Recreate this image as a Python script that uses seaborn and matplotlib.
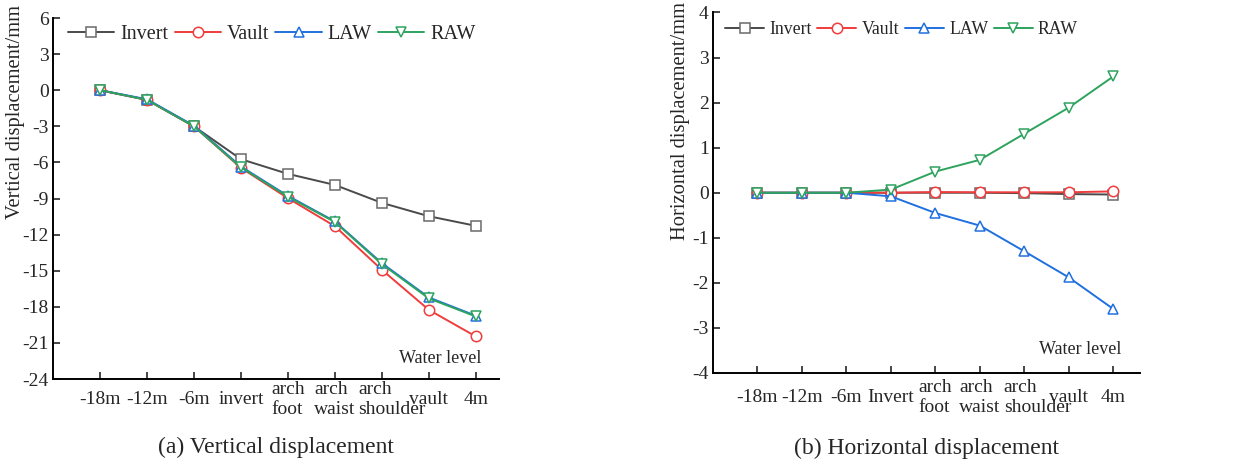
import numpy as np
import pandas as pd
import matplotlib
matplotlib.use("Agg")
import matplotlib.pyplot as plt
import matplotlib.transforms as mtransforms
import seaborn as sns

sns.set_theme(style="ticks")
plt.rcParams["font.family"] = ["Liberation Serif", "DejaVu Serif"]

# Water level stages
stages_a = ["-18m", "-12m", "-6m", "invert", "arch\nfoot", "arch\nwaist",
            "arch\nshoulder", "vault", "4m"]
stages_b = ["-18m", "-12m", "-6m", "Invert", "arch\nfoot", "arch\nwaist",
            "arch\nshoulder", "vault", "4m"]

series = ["Invert", "Vault", "LAW", "RAW"]

# Vertical displacement (mm)
vert_invert = [0.0, -0.8, -3.0, -5.73, -6.95, -7.87, -9.36, -10.47, -11.27]
vert_vault = [0.0, -0.8, -3.0, -6.45, -8.97, -11.3, -14.92, -18.25, -20.46]
vert_law = [0.0, -0.75, -2.95, -6.34, -8.78, -10.9, -14.37, -17.22, -18.74]
vert_raw = [0.0, -0.8, -3.0, -6.4, -8.85, -10.95, -14.45, -17.3, -18.8]

# Horizontal displacement (mm)
hor_invert = [0.0, 0.0, 0.0, 0.0, 0.0, 0.0, -0.01, -0.03, -0.04]
hor_vault = [0.0, 0.0, 0.0, 0.0, 0.015, 0.01, 0.01, 0.01, 0.03]
hor_law = [0.0, 0.0, 0.0, -0.08, -0.45, -0.73, -1.3, -1.88, -2.58]
hor_raw = [0.0, 0.0, 0.0, 0.07, 0.47, 0.73, 1.31, 1.89, 2.58]

colors = {"Invert": "#4a4a4a", "Vault": "#f03c3c", "LAW": "#2070e0", "RAW": "#2ea35e"}
edge_colors = {"Invert": "#6a6a6a", "Vault": "#f03c3c", "LAW": "#2070e0", "RAW": "#2ea35e"}
markers = {"Invert": "s", "Vault": "o", "LAW": "^", "RAW": "v"}


def long_frame(values):
    rows = []
    for name, vals in zip(series, values):
        for i, v in enumerate(vals):
            rows.append({"stage": i, "disp": v, "series": name})
    return pd.DataFrame(rows)


df_a = long_frame([vert_invert, vert_vault, vert_law, vert_raw])
df_b = long_frame([hor_invert, hor_vault, hor_law, hor_raw])

fig = plt.figure(figsize=(12.5, 4.67), dpi=100)
ax_a = fig.add_axes([0.0424, 0.1884, 0.357, 0.773])
ax_b = fig.add_axes([0.5704, 0.2013, 0.3416, 0.772])


def draw(ax, df, labels, xmax, ylim, yticks, xpad, shoulder_shift, ylabel, ylabel_xy,
         title, title_y, legend_xy, legend_size, handle_len, water_xy):
    for name in series:
        sub = df[df["series"] == name]
        sns.lineplot(data=sub, x="stage", y="disp", ax=ax, color=colors[name],
                     marker=markers[name], markersize=7.5, markerfacecolor="white",
                     markeredgecolor=edge_colors[name], markeredgewidth=1.1,
                     linewidth=1.4, label=name, legend=False)
    ax.set_xlim(-1.0, xmax)
    ax.set_ylim(*ylim)
    ax.set_yticks(yticks)
    ax.set_yticklabels([f"{t:g}" for t in yticks])
    ax.set_xticks(range(len(labels)))
    ax.tick_params(axis="x", direction="in", length=5, width=1.2, pad=xpad, labelsize=14)
    ax.tick_params(axis="y", direction="in", length=5, width=1.2, pad=3, labelsize=14)
    ax.set_xticklabels(labels, va="center", linespacing=1.25, multialignment="left")
    # the two-line "arch shoulder" label sits a little right of its tick
    shift = mtransforms.ScaledTranslation(shoulder_shift / 100.0, 0, fig.dpi_scale_trans)
    lab = ax.get_xticklabels()[6]
    lab.set_transform(lab.get_transform() + shift)
    for s in ["top", "right"]:
        ax.spines[s].set_visible(False)
    for s in ["left", "bottom"]:
        ax.spines[s].set_linewidth(1.4)
        ax.spines[s].set_color("black")
    ax.set_xlabel("")
    ax.set_ylabel(ylabel, fontsize=14.8)
    ax.yaxis.set_label_coords(*ylabel_xy)
    ax.text(water_xy[0], water_xy[1], "Water level", transform=ax.transAxes,
            ha="center", va="center", fontsize=13)
    ax.text(0.5, title_y, title, transform=ax.transAxes, ha="center", va="center",
            fontsize=17)
    handles, lbls = ax.get_legend_handles_labels()
    ax.legend(handles, lbls, loc="center left", bbox_to_anchor=legend_xy, ncol=4,
              frameon=False, fontsize=legend_size, handlelength=handle_len,
              handletextpad=0.3, columnspacing=0.3, borderaxespad=0.0, borderpad=0.0)


draw(ax_a, df_a, stages_a, 8.5, (-24, 6), list(range(6, -25, -3)), 15, 10,
     "Vertical displacement/mm", (-0.063, 0.74),
     "(a) Vertical displacement", -0.19,
     (0.034, 0.955), 14.5, 2.3, (0.868, 0.058))
draw(ax_b, df_b, stages_b, 8.6, (-4, 4), list(range(4, -5, -1)), 17.5, 13,
     "Horizontal displacement/mm", (-0.054, 0.70),
     "(b) Horizontal displacement", -0.208,
     (0.028, 0.953), 12.8, 2.2, (0.86, 0.064))

fig.savefig("out.png", dpi=100, facecolor="white")
